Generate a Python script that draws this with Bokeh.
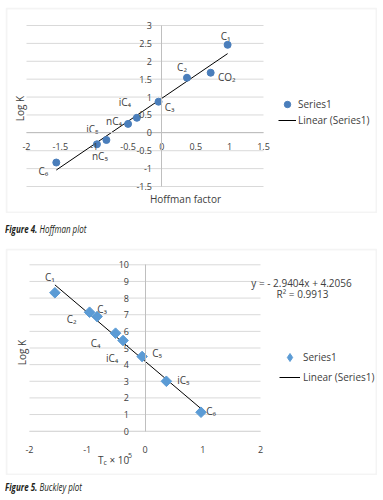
import numpy as np
from bokeh.plotting import figure
from bokeh.models import (Range1d, Label, Legend, LegendItem, Div, FixedTicker,
                          ColumnDataSource, BoxAnnotation)
from bokeh.layouts import column
from bokeh.embed import file_html
from bokeh.resources import INLINE
from bokeh.core.properties import value

# ---------------- data: Figure 4 (Hoffman plot) ----------------
hoff_names = ["C₁", "CO₂", "C₂", "C₃", "iC₄", "nC₄", "iC₅", "nC₅", "C₆"]
hoff_x = [0.97, 0.72, 0.37, -0.05, -0.37, -0.50, -0.82, -0.96, -1.56]
hoff_y = [2.46, 1.68, 1.54, 0.87, 0.42, 0.25, -0.20, -0.32, -0.83]
hoff_xticks = [-2, -1.5, -1, -0.5, 0, 0.5, 1, 1.5]
hoff_yticks = [-1.5, -1, -0.5, 0, 0.5, 1, 1.5, 2, 2.5, 3]

# ---------------- data: Figure 5 (Buckley plot) ----------------
buck_names = ["C₁", "C₂", "C₃", "C₄", "iC₄", "C₅", "iC₅", "C₆"]
buck_x = [-1.56, -0.96, -0.83, -0.51, -0.38, -0.05, 0.37, 0.97]
buck_y = [8.32, 7.15, 6.89, 5.89, 5.45, 4.49, 3.00, 1.14]
buck_slope = -2.9404
buck_intercept = 4.2056
buck_r2 = 0.9913
buck_xticks = [-2, -1, 0, 1, 2]
buck_yticks = list(range(0, 11))

# label offsets (screen px, +y = down; styling only)
hoff_dx = [-2, 16, -5, 11, -12, -14, -14, 3, -13]
hoff_dy = [-9, 4, -11, 5, -16, -3, -11, 12, 8]
buck_dx = [-5, -18, 5, -20, -11, 15, 17, 10]
buck_dy = [-16, 7, -8, 10, 17, -3, -1, -1]

FONT = "Open Sans"
TXT = "#404040"
GRID = "#d9d9d9"
AXIS = "#bfbfbf"


def ranges(W, H, box, xlim, ylim):
    # box: plot-area pixel edges within the canvas (left, right, top, bottom)
    l, r, t, b = box
    sx = (r - l) / (xlim[1] - xlim[0])
    sy = (b - t) / (ylim[1] - ylim[0])
    xr = Range1d(xlim[0] - l / sx, xlim[1] + (W - r) / sx)
    yr = Range1d(ylim[0] - (H - b) / sy, ylim[1] + t / sy)
    return xr, yr


def make_fig(W, H, box, xlim, ylim, xticks, yticks):
    xr, yr = ranges(W, H, box, xlim, ylim)
    p = figure(width=W, height=H, x_range=xr, y_range=yr, output_backend="svg",
               toolbar_location=None, min_border=0)
    p.xgrid.grid_line_color = None
    p.ygrid.grid_line_color = None
    p.outline_line_color = None
    p.background_fill_color = "white"
    p.border_fill_color = "white"
    # chart-area frame (light gray box around the whole chart)
    p.add_layout(BoxAnnotation(left=1, right=W - 1, bottom=1, top=H - 1,
                               left_units="screen", right_units="screen",
                               bottom_units="screen", top_units="screen",
                               fill_alpha=0, line_color=GRID, line_width=2, level="underlay"))
    p.segment(x0=[xlim[0]] * len(yticks), x1=[xlim[1]] * len(yticks), y0=yticks, y1=yticks,
              line_color=GRID, line_width=1)
    p.xaxis.ticker = FixedTicker(ticks=xticks)
    p.yaxis.ticker = FixedTicker(ticks=yticks)
    p.xaxis.bounds = tuple(xlim)
    p.yaxis.bounds = tuple(ylim)
    for ax in (p.xaxis, p.yaxis):
        ax.major_tick_line_color = None
        ax.minor_tick_line_color = None
        ax.axis_line_color = AXIS
        ax.major_label_text_font = FONT
        ax.major_label_text_font_size = "9px"
        ax.major_label_text_color = TXT
    p.xaxis.major_label_overrides = {t: f"{t:g}" for t in xticks}
    p.yaxis.major_label_overrides = {t: f"{t:g}" for t in yticks}
    return p


def screen_label(p, x, y, text, size="10px", angle=0, align="center", baseline="middle"):
    lab = Label(x=x, y=p.height - y, x_units="screen", y_units="screen", text=text,
                text_font=FONT, text_font_size=size, text_color=TXT, angle=angle,
                text_align=align, text_baseline=baseline)
    p.add_layout(lab)


def caption(num, title, height, top):
    return Div(text=f"<span style='display:inline-block;position:relative;top:{top}px;"
                    f"transform:scaleX(0.8);transform-origin:left;white-space:nowrap'>"
                    f"<b><i>Figure {num}.</i></b> <i>{title}</i></span>",
               width=372, height=height, margin=0,
               styles={"font-family": "'Open Sans', sans-serif", "font-size": "10px",
                       "color": "#231f20", "line-height": "12px"})


def legend(items, loc, gw, gh, standoff):
    return Legend(items=items, location=loc, orientation="vertical",
                  glyph_width=gw, glyph_height=gh, label_height=gh, label_standoff=standoff,
                  spacing=0, padding=0, margin=0, border_line_color=None,
                  background_fill_alpha=0, label_text_font=FONT,
                  label_text_font_size="10px", label_text_color=TXT)


# ---------------- Figure 4 ----------------
p1 = make_fig(372, 206, (21, 258, 18, 179), (-2, 1.5), (-1.5, 3), hoff_xticks, hoff_yticks)
p1.xaxis.fixed_location = 0
p1.yaxis.fixed_location = 0
p1.xaxis.major_label_standoff = 4
p1.yaxis.major_label_standoff = 4

src1 = ColumnDataSource(dict(x=hoff_x, y=hoff_y, name=hoff_names, dx=hoff_dx, dy=hoff_dy))
fit = np.polyfit(hoff_x, hoff_y, 1)
lx1 = np.array([min(hoff_x), max(hoff_x)])
r_line1 = p1.line(lx1, np.polyval(fit, lx1), line_color="black", line_width=1)
r_pts1 = p1.scatter("x", "y", source=src1, marker="circle", size=7,
                    fill_color="#4a7ebb", line_color="#4a7ebb")
p1.text("x", "y", text="name", source=src1, x_offset="dx", y_offset="dy",
        text_font=value(FONT), text_font_size="10px", text_color=TXT,
        text_align="center", text_baseline="middle")

p1.add_layout(legend([LegendItem(label="Series1", renderers=[r_pts1]),
                      LegendItem(label="Linear (Series1)", renderers=[r_line1])],
                     (273, 85), 18, 16, 2), "center")

screen_label(p1, 14, 101, "Log K", angle=np.pi / 2)
screen_label(p1, 180, 191, "Hoffman factor")

cap1 = caption(4, "Hoffman plot", 35, 10)

# ---------------- Figure 5 ----------------
p2 = make_fig(372, 227, (24, 255, 16.3, 182.7), (-2, 2), (0, 10), buck_xticks, buck_yticks)
p2.xaxis.fixed_location = 0
p2.yaxis.fixed_location = 0
p2.yaxis.major_label_standoff = 10
p2.xaxis.major_label_standoff = 9
p2.xaxis.axis_line_color = GRID

src2 = ColumnDataSource(dict(x=buck_x, y=buck_y, name=buck_names, dx=buck_dx, dy=buck_dy))
lx2 = np.array([min(buck_x), max(buck_x)])
r_line2 = p2.line(lx2, buck_slope * lx2 + buck_intercept, line_color="black", line_width=1)
r_pts2 = p2.scatter("x", "y", source=src2, marker="square", angle=np.pi / 4, size=7.5,
                    fill_color="#5b9bd5", line_color="#5b9bd5")
# legend-only symbol (no visible point)
r_leg2 = p2.scatter(x=[np.nan], y=[np.nan], marker="diamond", size=8,
                    fill_color="#5b9bd5", line_color="#5b9bd5")
p2.text("x", "y", text="name", source=src2, x_offset="dx", y_offset="dy",
        text_font=value(FONT), text_font_size="10px", text_color=TXT,
        text_align="center", text_baseline="middle")

p2.add_layout(legend([LegendItem(label="Series1", renderers=[r_leg2]),
                      LegendItem(label="Linear (Series1)", renderers=[r_line2])],
                     (274, 88), 21, 20, 3), "center")

sign = "-" if buck_slope < 0 else "+"
screen_label(p2, 296, 34, f"y = {sign} {abs(buck_slope):.4f}x + {buck_intercept:.4f}")
screen_label(p2, 297, 45.5, f"R² = {buck_r2:.4f}")
screen_label(p2, 16.5, 104, "Log K", angle=np.pi / 2)
screen_label(p2, 98, 211, "T", align="right")
screen_label(p2, 98, 214, "c", size="7px", align="left")
screen_label(p2, 104, 211, "× 10", align="left")
screen_label(p2, 122.5, 207, "5", size="7px", align="left")

cap2 = caption(5, "Buckley plot", 20, 6)

layout = column(p1, cap1, p2, cap2, spacing=0, margin=(7, 0, 0, 5))
open("out.html", "w").write(file_html(layout, INLINE))
